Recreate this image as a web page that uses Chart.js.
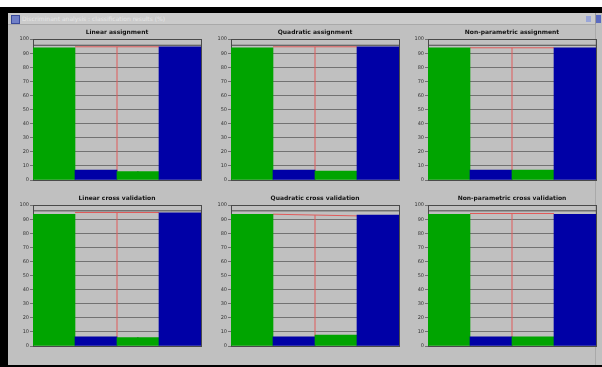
<!doctype html>
<html>
<head>
<meta charset="utf-8">
<title>Discriminant analysis</title>
<script src="https://cdn.jsdelivr.net/npm/chart.js@4.4.0/dist/chart.umd.min.js"></script>
<style>
  body { margin: 0; width: 602px; height: 367px; background: #fff; position: relative; overflow: hidden; font-family: "DejaVu Sans", sans-serif; }
  #frame { position: absolute; left: 0; top: 7px; width: 602px; height: 360px; background: #000; }
  #win { position: absolute; left: 8px; top: 13px; width: 594px; height: 352px; background: #c0c0c0; }
  #bar { position: absolute; left: 0; top: 0; width: 587px; height: 11px; background: #cbcbcb; border-bottom: 1px solid #a9a9a9; border-right: 1px solid #9a9a9a; }
  #bar span { position: absolute; left: 14px; top: 2px; font-size: 6px; color: #e6e6e6; white-space: nowrap; }
  #icon { position: absolute; left: 3px; top: 2px; width: 7px; height: 7px; background: #6f7fc8; border: 1px solid #3a4a9a; }
  #btn1 { position: absolute; left: 578px; top: 3px; width: 5px; height: 6px; background: #9aa6d8; }
  #btn2 { position: absolute; left: 588px; top: 2px; width: 5px; height: 8px; background: #5a6ac0; }
  #edge { position: absolute; left: 587px; top: 12px; width: 1px; height: 340px; background: #a9a9a9; }
  canvas { position: absolute; filter: blur(0.4px); }
</style>
</head>
<body>
<div id="frame"></div>
<div id="win">
  <div id="bar"><div id="icon"></div><span>Discriminant analysis : classification results (%)</span></div>
  <div id="btn1"></div><div id="btn2"></div>
  <div id="edge"></div>
</div>
<canvas id="c0" width="197" height="163" style="left:7px;top:22px"></canvas>
<canvas id="c1" width="197" height="163" style="left:205px;top:22px"></canvas>
<canvas id="c2" width="197" height="163" style="left:402px;top:22px"></canvas>
<canvas id="c3" width="197" height="163" style="left:7px;top:188px"></canvas>
<canvas id="c4" width="197" height="163" style="left:205px;top:188px"></canvas>
<canvas id="c5" width="197" height="163" style="left:402px;top:188px"></canvas>
<script>
// one entry per panel
var chartTitles = ['Linear assignment', 'Quadratic assignment', 'Non-parametric assignment',
                   'Linear cross validation', 'Quadratic cross validation', 'Non-parametric cross validation'];
var barPositions = [0.5, 1.5, 2.5, 3.5];
var tickLabels = ['1', '2', '1', '2'];
var group1As1 = [93.8, 93.8, 93.8, 93.6, 93.6, 93.6];
var group1As2 = [7.1, 7.1, 7.1, 6.6, 6.6, 6.6];
var group2As1 = [5.9, 6.4, 7.1, 5.9, 7.8, 6.6];
var group2As2 = [94.5, 94.5, 93.8, 94.5, 92.9, 93.6];
var refLeft = [94.6, 94.6, 93.9, 94.8, 93.6, 94.1];
var refRight = [94.6, 94.6, 93.9, 94.8, 92.4, 94.1];
var boxLine = [95.7, 95.7, 95.7, 96, 96, 96];

var GREEN = '#00a400';
var BLUE = '#0000a6';
var GRID = '#727272';
var AXIS = '#4a4a4a';

function makeChart(i) {
  var ctx = document.getElementById('c' + i).getContext('2d');
  var mid = (refLeft[i] + refRight[i]) / 2;
  return new Chart(ctx, {
    type: 'bar',
    data: {
      datasets: [{
        data: [
          {x: barPositions[0], y: group1As1[i]},
          {x: barPositions[1], y: group1As2[i]},
          {x: barPositions[2], y: group2As1[i]},
          {x: barPositions[3], y: group2As2[i]}
        ],
        backgroundColor: [GREEN, BLUE, GREEN, BLUE],
        borderWidth: 0,
        barPercentage: 1,
        categoryPercentage: 1,
        order: 1
      }, {
        type: 'line',
        data: [{x: 1, y: refLeft[i]}, {x: 3, y: refRight[i]}],
        borderColor: '#e05a5a', borderWidth: 1, pointRadius: 0, order: 3
      }, {
        type: 'line',
        data: [{x: 2, y: 0}, {x: 2, y: mid}],
        borderColor: '#e05a5a', borderWidth: 1, pointRadius: 0, order: 3
      }, {
        type: 'line',
        data: [{x: 0, y: boxLine[i]}, {x: 4, y: boxLine[i]}],
        borderColor: AXIS, borderWidth: 1, pointRadius: 0, order: 4
      }]
    },
    options: {
      responsive: false,
      animation: false,
      events: [],
      layout: { padding: { left: 0, right: 3, top: 0, bottom: 2 } },
      plugins: {
        legend: { display: false },
        tooltip: { enabled: false },
        title: {
          display: true,
          text: chartTitles[i],
          fullSize: false,
          color: '#111',
          font: { family: 'DejaVu Sans', size: 6, weight: 'bold' },
          padding: { top: 7, bottom: 3 }
        }
      },
      scales: {
        x: {
          type: 'linear', min: 0, max: 4, offset: false,
          grid: { display: false, offset: false },
          border: { display: true, color: AXIS },
          afterBuildTicks: function (s) { s.ticks = barPositions.map(function (v) { return {value: v}; }); },
          afterFit: function (s) { s.height = 3; },
          ticks: {
            autoSkip: false, maxRotation: 0, mirror: true, padding: 3,
            color: '#1a1a1a', font: { family: 'DejaVu Sans', size: 5 },
            callback: function (v, idx) { return tickLabels[idx]; }
          }
        },
        xTop: {
          type: 'linear', position: 'top', min: 0, max: 4,
          grid: { display: false }, ticks: { display: false },
          border: { display: true, color: AXIS },
          afterFit: function (s) { s.height = 0; }
        },
        y: {
          min: 0, max: 100,
          grid: { color: GRID, tickLength: 3 },
          border: { display: true, color: AXIS },
          afterFit: function (s) { s.width = 26; },
          ticks: { stepSize: 10, padding: 1, color: '#333', font: { family: 'DejaVu Sans', size: 5 } }
        },
        yRight: {
          type: 'linear', position: 'right', min: 0, max: 100,
          grid: { display: false }, ticks: { display: false },
          border: { display: true, color: AXIS },
          afterFit: function (s) { s.width = 0; }
        }
      }
    }
  });
}

for (var k = 0; k < chartTitles.length; k++) {
  makeChart(k);
}
</script>
</body>
</html>
